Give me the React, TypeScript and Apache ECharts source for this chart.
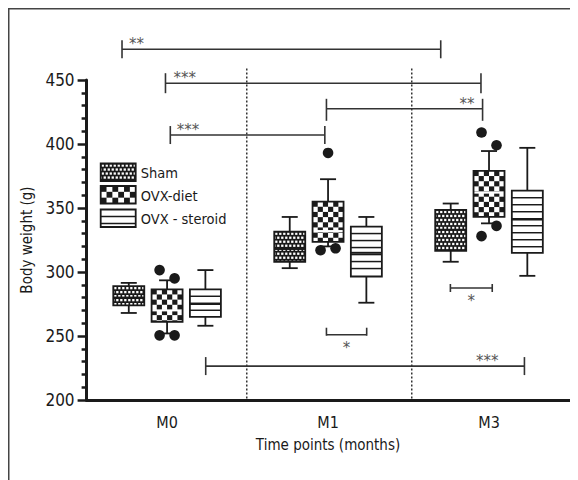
import React, { useEffect, useRef } from 'react';
import * as echarts from 'echarts';

const categories = ['M0', 'M1', 'M3'];
const groupNames = ['Sham', 'OVX-diet', 'OVX - steroid'];
// [min, q1, median, q3, max] for M0, M1, M3
const shamBoxes = [[268, 274, 280, 289, 291.5], [303, 308, 318, 331.5, 343], [308, 316.5, 333, 348.5, 353.5]];
const dietBoxes = [[252, 261, 270, 286.5, 293.5], [320, 323.5, 332, 355, 372.5], [338, 343, 362, 379, 394.5]];
const steroidBoxes = [[258, 265, 275, 286.5, 301.5], [276, 296.5, 315, 335.5, 343], [297, 315, 341, 363.5, 397]];
const shamOutliers: number[][] = [[], [], []];
const dietOutliers: number[][] = [[301.5, 295, 250.5, 250.5], [393, 318.5, 317], [409, 399, 336, 328]];
const steroidOutliers: number[][] = [[], [], []];

const yMin = 200;
const yMax = 450;
const yInterval = 50;

const bracketLabels = ['**', '***', '**', '***', '*', '*', '***'];
const bracketFrom = [-0.28, -0.01, 0.99, 0.02, 0.99, 1.76, 0.24];
const bracketTo = [1.70, 1.95, 1.96, 0.98, 1.24, 2.02, 2.22];
const bracketY = [474, 447.5, 427.5, 407, 251, 287.5, 226.5];
const dividerX = [0.495, 1.52];
const dividerTop = 459;

// layout / style constants
const BOX_STEP = 0.238;
const BOX_HALF = 15.5;
const CAP_HALF = 8;
const DOT_R = 5.3;
const DOT_SPREAD = 7.5;
const INK = '#1a1a1a';
const FONT = '"Liberation Sans Narrow", "DejaVu Sans Condensed", "Roboto Condensed", "Arial Narrow", sans-serif';
const bracketStyle = [
  { place: 'startAbove', dx: 7, up: 9, down: 9 },
  { place: 'startAbove', dx: 8, up: 10, down: 10 },
  { place: 'endAbove', dx: 8, up: 10, down: 12 },
  { place: 'startAbove', dx: 6.5, up: 9, down: 9 },
  { place: 'below', dx: 0, up: 7, down: 1 },
  { place: 'below', dx: 0, up: 4, down: 4 },
  { place: 'endAbove', dx: 26, up: 9, down: 9 },
];

function patternChildren(kind: number, x: number, y: number, w: number, h: number): any[] {
  const out: any[] = [];
  if (kind === 0) {
    out.push({ type: 'rect', shape: { x, y, width: w, height: h }, style: { fill: INK } });
    const p = 4, s = 2.3;
    for (let r = 0; y + r * p < y + h; r++) {
      for (let c = -1; ; c++) {
        const x0 = x + c * p + (r % 2 ? p / 2 : 0) + 0.9;
        if (x0 >= x + w) break;
        const y0 = y + r * p + 0.9;
        const rx0 = Math.max(x0, x), rx1 = Math.min(x0 + s, x + w);
        const ry1 = Math.min(y0 + s, y + h);
        if (rx1 > rx0 && ry1 > y0) {
          out.push({ type: 'rect', shape: { x: rx0, y: y0, width: rx1 - rx0, height: ry1 - y0 }, style: { fill: '#fff' } });
        }
      }
    }
  } else if (kind === 1) {
    out.push({ type: 'rect', shape: { x, y, width: w, height: h }, style: { fill: '#fff' } });
    const cell = w / 6;
    for (let r = 0; y + r * cell < y + h; r++) {
      for (let c = 0; c < 6; c++) {
        if ((r + c) % 2 !== 0) continue;
        const y0 = y + r * cell;
        const y1 = Math.min(y0 + cell, y + h);
        out.push({ type: 'rect', shape: { x: x + c * cell, y: y0, width: cell, height: y1 - y0 }, style: { fill: INK } });
      }
    }
  } else {
    out.push({ type: 'rect', shape: { x, y, width: w, height: h }, style: { fill: '#fff' } });
    const gap = 7;
    for (let yy = y + gap; yy < y + h - 2; yy += gap) {
      out.push({ type: 'line', shape: { x1: x, y1: yy, x2: x + w, y2: yy }, style: { stroke: INK, lineWidth: 1.5 } });
    }
  }
  return out;
}

function boxRenderer(s: number) {
  return (params: any, api: any) => {
    const g = api.value(0);
    const xc = g + (s - 1) * BOX_STEP;
    const pMin = api.coord([xc, api.value(1)]);
    const pQ1 = api.coord([xc, api.value(2)]);
    const pMed = api.coord([xc, api.value(3)]);
    const pQ3 = api.coord([xc, api.value(4)]);
    const pMax = api.coord([xc, api.value(5)]);
    const cx = pMin[0];
    const lineStyle = { stroke: INK, lineWidth: 1.8 };
    const children: any[] = [
      { type: 'line', shape: { x1: cx, y1: pMax[1], x2: cx, y2: pQ3[1] }, style: lineStyle },
      { type: 'line', shape: { x1: cx, y1: pQ1[1], x2: cx, y2: pMin[1] }, style: lineStyle },
      { type: 'line', shape: { x1: cx - CAP_HALF, y1: pMax[1], x2: cx + CAP_HALF, y2: pMax[1] }, style: lineStyle },
      { type: 'line', shape: { x1: cx - CAP_HALF, y1: pMin[1], x2: cx + CAP_HALF, y2: pMin[1] }, style: lineStyle },
    ];
    const bx = cx - BOX_HALF, by = pQ3[1], bw = BOX_HALF * 2, bh = pQ1[1] - pQ3[1];
    children.push(...patternChildren(s, bx, by, bw, bh));
    children.push({
      type: 'line', shape: { x1: bx, y1: pMed[1], x2: bx + bw, y2: pMed[1] },
      style: { stroke: s === 1 ? '#fff' : INK, lineWidth: 2 },
    });
    children.push({ type: 'rect', shape: { x: bx, y: by, width: bw, height: bh }, style: { fill: 'none', stroke: INK, lineWidth: 1.8 } });
    return { type: 'group', children };
  };
}

function outlierData(boxes: number[][], outliers: number[][], s: number) {
  const pts: number[][] = [];
  outliers.forEach((list, g) => {
    const lo = boxes[g][0], hi = boxes[g][4];
    const above = list.filter((v) => v > hi).sort((a, b) => b - a);
    const below = list.filter((v) => v < lo).sort((a, b) => a - b);
    [above, below].forEach((arr) => {
      arr.forEach((v, i) => {
        const side = arr.length === 1 ? 0 : i % 2 === 0 ? -1 : 1;
        pts.push([g + (s - 1) * BOX_STEP, v, side]);
      });
    });
  });
  return pts;
}

export default function App() {
  const ref = useRef<HTMLDivElement>(null);
  useEffect(() => {
    if (!ref.current) return;
    const chart = echarts.init(ref.current, undefined, { renderer: 'svg' });
    const allBoxes = [shamBoxes, dietBoxes, steroidBoxes];
    const allOut = [shamOutliers, dietOutliers, steroidOutliers];
    const series: any[] = [];
    allBoxes.forEach((boxes, s) => {
      series.push({
        type: 'custom', name: groupNames[s], coordinateSystem: 'cartesian2d', xAxisIndex: 1, yAxisIndex: 0,
        data: boxes.map((b, g) => [g, ...b]),
        encode: { x: 0, y: [1, 2, 3, 4, 5] },
        renderItem: boxRenderer(s), silent: true,
      });
    });
    const outPts: number[][] = [];
    allBoxes.forEach((boxes, s) => outPts.push(...outlierData(boxes, allOut[s], s)));
    series.push({
      type: 'custom', name: 'outliers', coordinateSystem: 'cartesian2d', xAxisIndex: 1, yAxisIndex: 0,
      data: outPts, encode: { x: 0, y: 1 }, silent: true,
      renderItem: (params: any, api: any) => {
        const p = api.coord([api.value(0), api.value(1)]);
        return { type: 'circle', shape: { cx: p[0] + api.value(2) * DOT_SPREAD, cy: p[1], r: DOT_R }, style: { fill: INK } };
      },
    });
    series.push({
      type: 'custom', name: 'dividers', coordinateSystem: 'cartesian2d', xAxisIndex: 1, yAxisIndex: 0,
      data: dividerX.map((x) => [x, dividerTop, yMin]), encode: { x: 0, y: [1, 2] }, silent: true,
      renderItem: (params: any, api: any) => {
        const a = api.coord([api.value(0), api.value(1)]);
        const b = api.coord([api.value(0), api.value(2)]);
        return { type: 'line', shape: { x1: a[0], y1: a[1], x2: b[0], y2: b[1] }, style: { stroke: '#333', lineWidth: 1.5, lineDash: [2, 2] } };
      },
    });
    series.push({
      type: 'custom', name: 'brackets', coordinateSystem: 'cartesian2d', xAxisIndex: 1, yAxisIndex: 0,
      data: bracketLabels.map((_, i) => [bracketFrom[i], bracketTo[i], bracketY[i], i]),
      encode: { x: [0, 1], y: 2 }, silent: true,
      renderItem: (params: any, api: any) => {
        const i = api.value(3);
        const st = bracketStyle[i];
        const a = api.coord([api.value(0), api.value(2)]);
        const b = api.coord([api.value(1), api.value(2)]);
        const y = a[1];
        const ls = { stroke: '#333', lineWidth: 1.6 };
        let tx = a[0] + st.dx, ty = y - 5, align = 'left';
        if (st.place === 'endAbove') { tx = b[0] - st.dx; align = 'right'; }
        if (st.place === 'below') { tx = (a[0] + b[0]) / 2; ty = y + 13; align = 'center'; }
        return {
          type: 'group', children: [
            { type: 'line', shape: { x1: a[0], y1: y, x2: b[0], y2: y }, style: ls },
            { type: 'line', shape: { x1: a[0], y1: y - st.up, x2: a[0], y2: y + st.down }, style: ls },
            { type: 'line', shape: { x1: b[0], y1: y - st.up, x2: b[0], y2: y + st.down }, style: ls },
            { type: 'text', x: tx, y: ty, style: { text: bracketLabels[i], fill: '#555', font: '15px "DejaVu Sans", sans-serif', textAlign: align, textVerticalAlign: 'middle' } },
          ],
        };
      },
    });

    // legend (drawn with graphics, pixel positions in chart coords)
    const legendChildren: any[] = [];
    const lx = 92.7, lw = 35, lh = 17.5;
    const lTops = [155.5, 178, 201.5];
    lTops.forEach((t, s) => {
      legendChildren.push(...patternChildren(s, lx, t, lw, lh));
      legendChildren.push({ type: 'rect', shape: { x: lx, y: t, width: lw, height: lh }, style: { fill: 'none', stroke: INK, lineWidth: 1.8 } });
      legendChildren.push({ type: 'text', x: lx + lw + 5, y: t + lh / 2 + 1, style: { text: groupNames[s], fill: INK, font: '14.5px ' + FONT, textVerticalAlign: 'middle' } });
    });

    chart.setOption({
      animation: false,
      grid: { left: 78.6, right: 8.5, top: 72, bottom: 80 },
      xAxis: [
        {
          type: 'category', data: categories, boundaryGap: true,
          axisLine: { lineStyle: { color: INK, width: 3 } },
          axisTick: { alignWithLabel: true, length: 9, lineStyle: { color: INK, width: 2.5 } },
          axisLabel: { color: INK, fontSize: 16, fontFamily: FONT, margin: 14 },
          splitLine: { show: false },
          name: 'Time points (months)', nameLocation: 'middle', nameGap: 37,
          nameTextStyle: { color: INK, fontSize: 15, fontFamily: FONT },
        },
        { type: 'value', min: -0.5, max: 2.5, show: false, splitLine: { show: false } },
      ],
      yAxis: {
        type: 'value', min: yMin, max: yMax, interval: yInterval,
        axisLine: { show: true, onZero: false, lineStyle: { color: INK, width: 3 } },
        axisTick: { show: true, length: 9, lineStyle: { color: INK, width: 2.5 } },
        minorTick: { show: true, splitNumber: 5, length: 5, lineStyle: { color: INK, width: 2.5 } },
        axisLabel: { color: INK, fontSize: 17, fontFamily: FONT, margin: 12 },
        splitLine: { show: false },
        name: 'Body weight (g)', nameLocation: 'middle', nameGap: 48,
        nameTextStyle: { color: INK, fontSize: 15, fontFamily: FONT },
      },
      graphic: [
        { type: 'polyline', shape: { points: [[0.75, 480], [0.75, 0.75], [580, 0.75]] }, style: { stroke: '#444', lineWidth: 1.5, fill: 'none' } },
        { type: 'group', children: legendChildren },
      ],
      series,
    });
    return () => chart.dispose();
  }, []);
  return <div ref={ref} style={{ width: 570, height: 472 }} />;
}
